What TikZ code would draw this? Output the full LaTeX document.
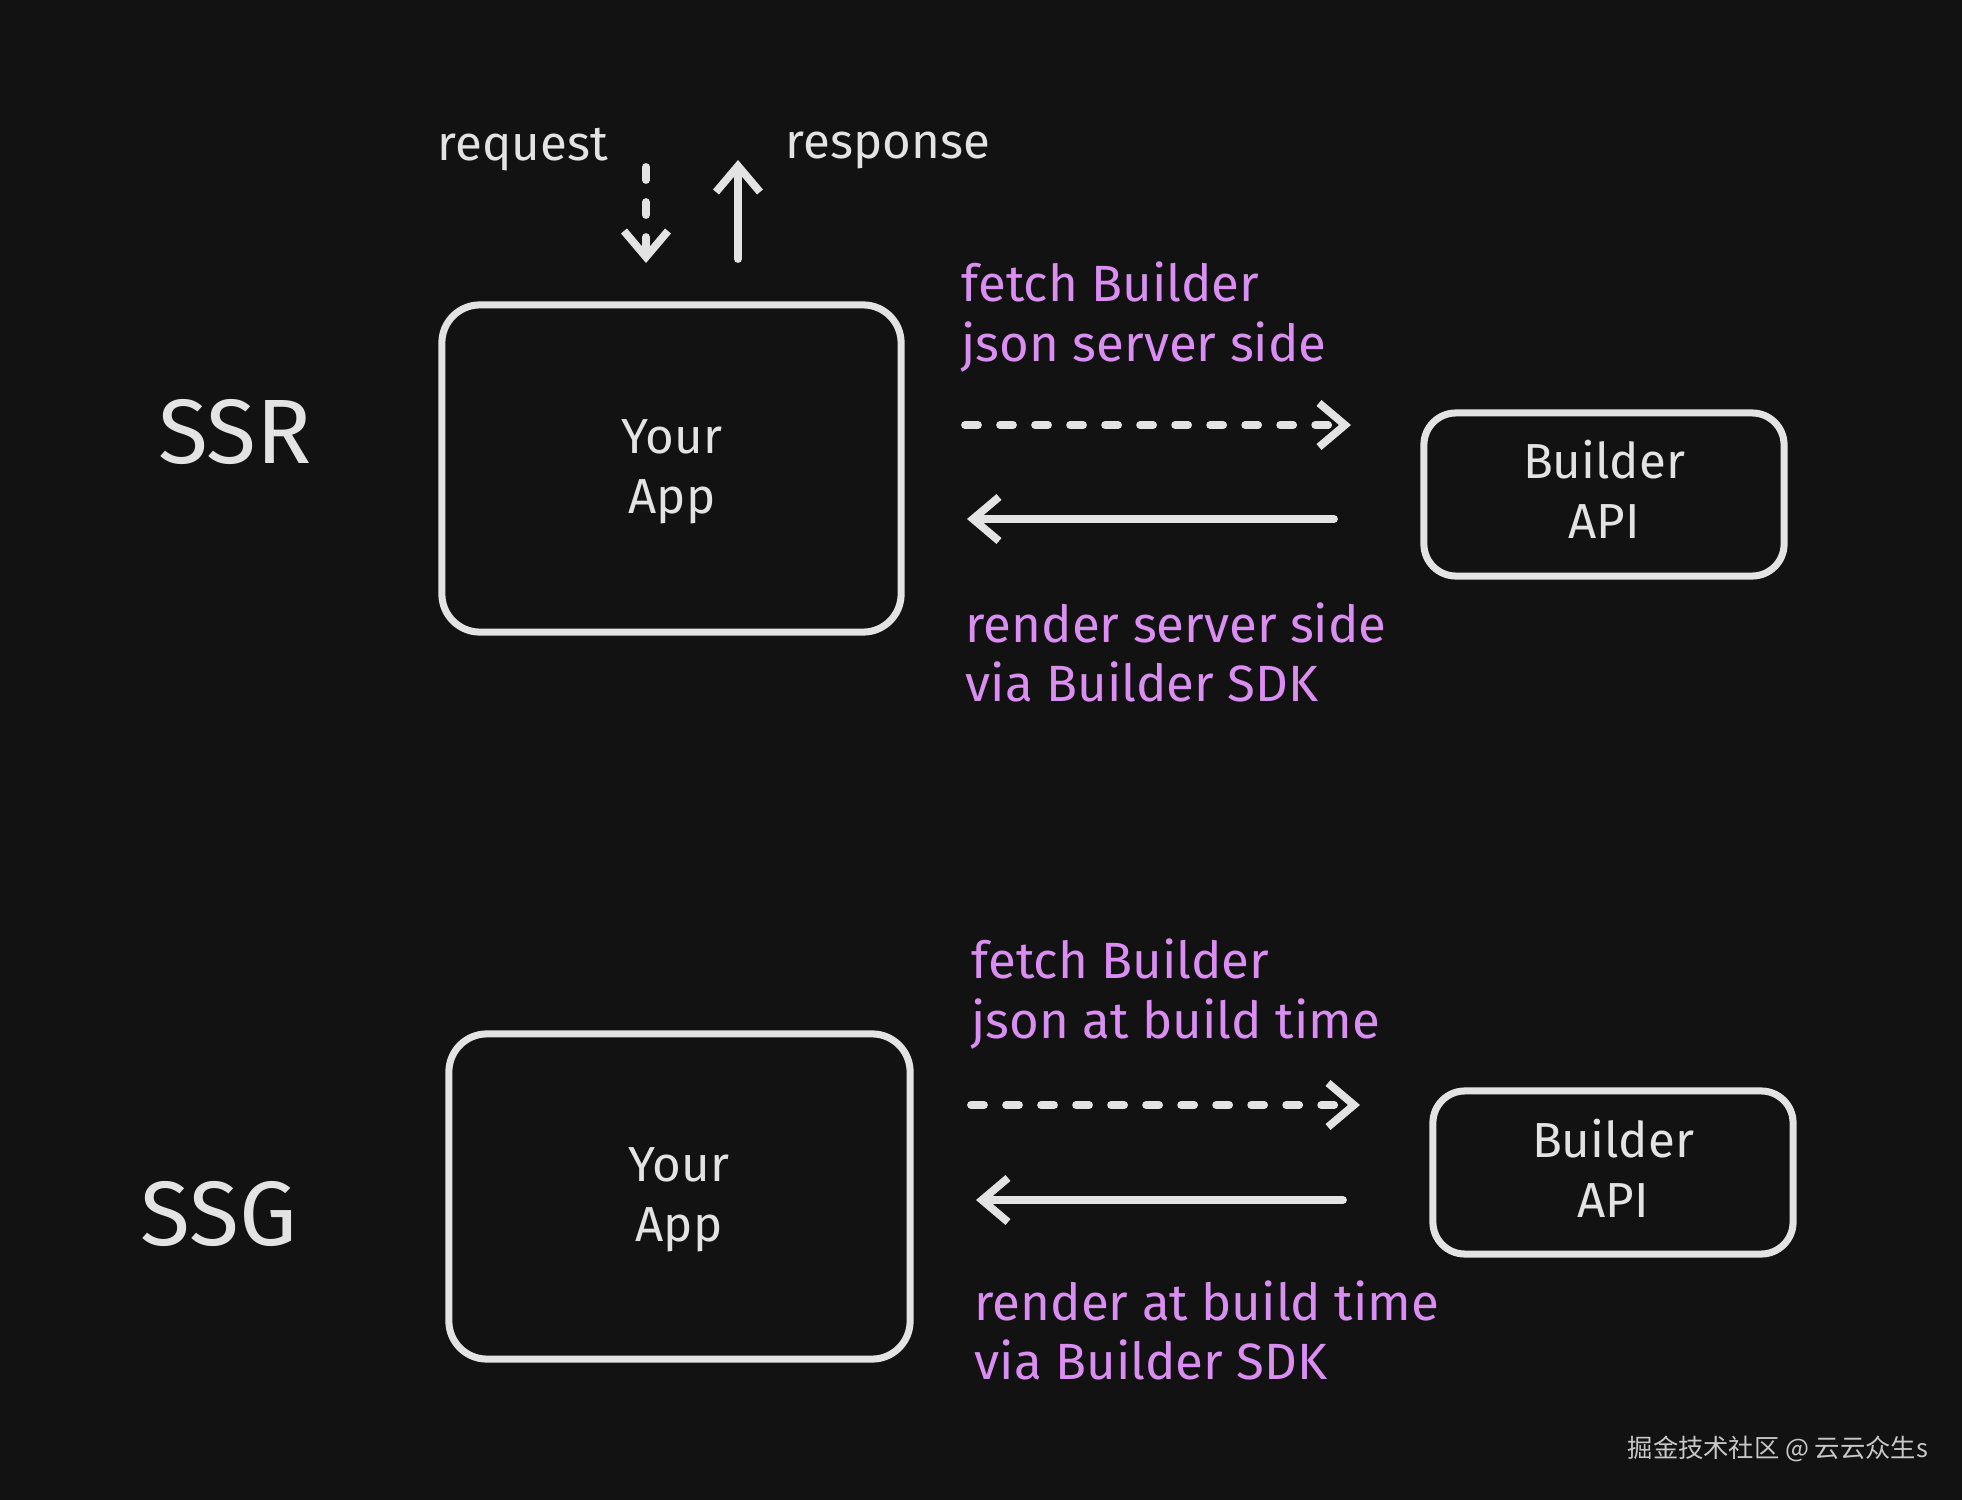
\documentclass[tikz,border=0pt]{standalone}
\usepackage{fontspec}
\setmainfont{Fira Sans}
\newfontfamily\cjk{Noto Sans CJK SC}
\usetikzlibrary{arrows.meta}
\definecolor{bgc}{HTML}{121212}
\definecolor{fg}{HTML}{E3E3E3}
\definecolor{vio}{HTML}{DA8EF2}
\definecolor{wm}{HTML}{C8C8C8}
\tikzset{
  box/.style={draw=fg, line width=2pt, rounded corners=0.38cm, inner sep=0pt},
  wtext/.style={text=fg, font=\fontsize{14}{17}\selectfont, align=center, inner sep=0pt},
  vtext/.style={text=vio, font=\fontsize{14.5}{16.8}\selectfont, align=left, inner sep=0pt, anchor=west},
  biglabel/.style={text=fg, font=\fontsize{26}{30}\selectfont, inner sep=0pt},
  conn/.style={draw=fg, line width=2.2pt, line cap=round, -{Straight Barb[length=0.26cm, width=0.44cm, line width=2.2pt]}},
  dconn/.style={conn, dash pattern=on 0.13cm off 0.22cm},
}
\begin{document}
\begin{tikzpicture}[x=0.01cm,y=-0.01cm]
\fill[bgc] (0,0) rectangle (1962,1500);
\useasboundingbox (0,0) rectangle (1962,1500);

% ---------- SSR ----------
\node[biglabel] (ssr) at (235,432) {SSR};
\node[wtext] (reqlbl) at (523,150) {request};
\node[wtext] (reslbl) at (888,150) {response};
\node[box, minimum width=4.59cm, minimum height=3.27cm] (app1) at (671.5,468.5) {};
\node[wtext] (app1t) at (672,472) {Your\\App};
\node[box, minimum width=3.60cm, minimum height=1.63cm, rounded corners=0.32cm] (api1) at (1604,494.5) {};
\node[wtext] (api1t) at (1604,489) {Builder\\API};

\coordinate (rq1) at (646,167);
\coordinate (rq2) at (646,263);
\coordinate (rs1) at (738,259);
\coordinate (rs2) at (738,160);
\draw[dconn] (rq1) -- (rq2);
\draw[conn] (rs1) -- (rs2);

\node[vtext] (f1) at (961,317) {fetch Builder\\json server side};
\coordinate (d1a) at (965,425);
\coordinate (d1b) at (1351,425);
\draw[dconn] (d1a) -- (d1b);
\coordinate (s1a) at (1334,519);
\coordinate (s1b) at (967,519);
\draw[conn] (s1a) -- (s1b);
\node[vtext] (r1) at (965,652) {render server side\\via Builder SDK};

% ---------- SSG ----------
\node[biglabel] (ssg) at (219,1214) {SSG};
\node[box, minimum width=4.61cm, minimum height=3.25cm] (app2) at (679.5,1196.5) {};
\node[wtext] (app2t) at (679,1200) {Your\\App};
\node[box, minimum width=3.60cm, minimum height=1.63cm, rounded corners=0.32cm] (api2) at (1613,1172.5) {};
\node[wtext] (api2t) at (1613,1168) {Builder\\API};

\node[vtext] (f2) at (971,994) {fetch Builder\\json at build time};
\coordinate (d2a) at (971,1105);
\coordinate (d2b) at (1360,1105);
\draw[dconn] (d2a) -- (d2b);
\coordinate (s2a) at (1343,1200);
\coordinate (s2b) at (976,1200);
\draw[conn] (s2a) -- (s2b);
\node[vtext] (r2) at (974,1330) {render at build time\\via Builder SDK};

% watermark
\node[text=wm, font=\cjk\fontsize{7.2}{9}\selectfont, anchor=west, inner sep=0pt] (wmk) at (1627,1449) {掘金技术社区 @ 云云众生s};
\end{tikzpicture}
\end{document}
